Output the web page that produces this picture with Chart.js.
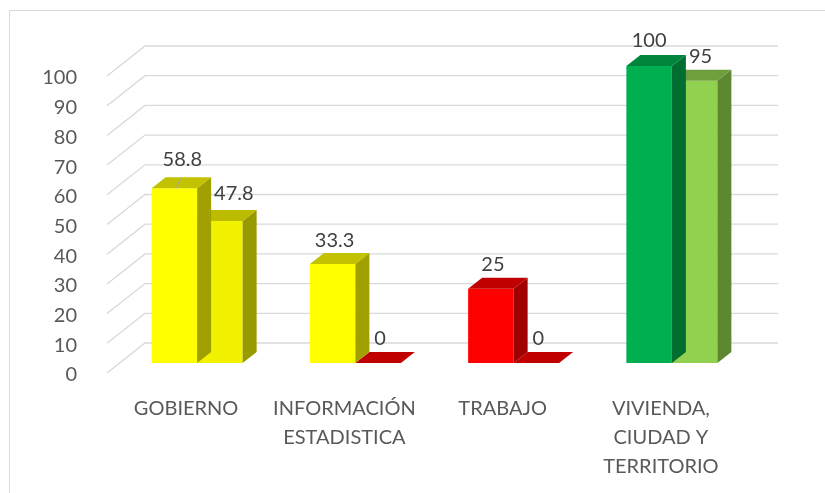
<!DOCTYPE html>
<html>
<head>
<meta charset="utf-8">
<script src="https://cdn.jsdelivr.net/npm/chart.js@4.4.1/dist/chart.umd.min.js"></script>
<style>
  html, body { margin: 0; padding: 0; background: #fff; }
  canvas { display: block; }
</style>
</head>
<body>
<canvas id="c" width="825" height="493"></canvas>
<script>
// categories and values
const categories = ["GOBIERNO", ["INFORMACIÓN", "ESTADISTICA"], "TRABAJO", ["VIVIENDA,", "CIUDAD Y", "TERRITORIO"]]
const serie1 = [58.8, 33.3, 25, 100]
const serie2 = [47.8, 0, 0, 95]
const yTicks = [0, 10, 20, 30, 40, 50, 60, 70, 80, 90, 100]

// colours of the three visible faces of each bar
const front1 = ["#FFFF00", "#FFFF00", "#FF0000", "#00B050"]
const top1 = ["#C2C200", "#C2C200", "#C00000", "#00853C"]
const side1 = ["#A0A000", "#A0A000", "#A00000", "#006E31"]
const front2 = ["#F2F200", "#FF0000", "#FF0000", "#92D050"]
const top2 = ["#BBBB00", "#C00000", "#C00000", "#6F9E3D"]
const side2 = ["#999900", "#A00000", "#A00000", "#5E8732"]

// 3d look: shift of the bar fronts inside the floor, and depth of a bar
const OX = 11, OY = -10
const DX = 14, DY = -11
const WALL_DX = 38, WALL_DY = -30

// small moves of some value labels, "dataset-index"
const labelNudge = {
    "0-0": { x: 6, y: -5, leader: true },
    "1-0": { x: 12, y: -3 },
    "1-3": { x: 4, y: 0 },
    "0-3": { x: -2, y: -1 }
}

function poly(ctx, pts, color) {
    ctx.beginPath()
    ctx.moveTo(pts[0][0], pts[0][1])
    for (let i = 1; i < pts.length; i++) ctx.lineTo(pts[i][0], pts[i][1])
    ctx.closePath()
    ctx.fillStyle = color
    ctx.fill()
}

const bars3d = {
    id: "bars3d",
    beforeDraw(chart) {
        let ctx = chart.ctx
        ctx.save()
        ctx.fillStyle = "#fff"
        ctx.fillRect(0, 0, chart.width, chart.height)
        ctx.strokeStyle = "#D9D9D9"
        ctx.lineWidth = 1
        ctx.beginPath()
        ctx.moveTo(9.5, chart.height)
        ctx.lineTo(9.5, 10.5)
        ctx.lineTo(chart.width, 10.5)
        ctx.stroke()
        ctx.restore()
    },
    beforeDatasetsDraw(chart) {
        let ctx = chart.ctx
        let y = chart.scales.y
        let a = chart.chartArea
        ctx.save()
        ctx.strokeStyle = "#D9D9D9"
        ctx.lineWidth = 1.3
        yTicks.forEach(v => {
            let py = y.getPixelForValue(v)
            ctx.beginPath()
            ctx.moveTo(a.left, py)
            ctx.lineTo(a.left + WALL_DX, py + WALL_DY)
            ctx.lineTo(a.right + WALL_DX, py + WALL_DY)
            ctx.stroke()
        })
        ctx.restore()
        ctx.save()
        ctx.translate(OX, OY)
    },
    afterDatasetDraw(chart, args) {
        let ctx = chart.ctx
        let tops = args.index === 0 ? top1 : top2
        let sides = args.index === 0 ? side1 : side2
        args.meta.data.forEach((bar, i) => {
            let p = bar.getProps(["x", "y", "base", "width"], true)
            let l = p.x - p.width / 2, r = p.x + p.width / 2
            let t = Math.min(p.y, p.base), b = Math.max(p.y, p.base)
            if (b - t > 0.5) {
                poly(ctx, [[r, t], [r + DX, t + DY], [r + DX, b + DY], [r, b]], sides[i])
            }
            poly(ctx, [[l, t], [l + DX, t + DY], [r + DX, t + DY], [r, t]], tops[i])
        })
    },
    afterDatasetsDraw(chart) {
        let ctx = chart.ctx
        ctx.restore()
        ctx.save()
        ctx.font = "20px Lato"
        ctx.fillStyle = "#404040"
        ctx.textAlign = "center"
        ctx.textBaseline = "middle"
        chart.data.datasets.forEach((ds, d) => {
            chart.getDatasetMeta(d).data.forEach((bar, i) => {
                let cx = bar.x + OX
                let ty = bar.y + OY
                let n = labelNudge[d + "-" + i] || { x: 0, y: 0 }
                ctx.fillText(String(ds.data[i]), cx + 2 + n.x, ty - 24 + n.y)
                if (n.leader) {
                    ctx.strokeStyle = "#A6A6A6"
                    ctx.lineWidth = 1
                    ctx.beginPath()
                    ctx.moveTo(cx + 1.5, ty)
                    ctx.lineTo(cx + 7, ty - 11)
                    ctx.stroke()
                }
            })
        })
        ctx.restore()
    }
}

function draw() {
    Chart.defaults.font.family = "Lato"
    new Chart(document.getElementById("c"), {
        type: "bar",
        data: {
            labels: categories,
            datasets: [{
                data: serie1,
                backgroundColor: front1,
                borderWidth: 0,
                clip: false
            }, {
                data: serie2,
                backgroundColor: front2,
                borderWidth: 0,
                clip: false
            }]
        },
        options: {
            responsive: false,
            animation: false,
            events: [],
            barPercentage: 1,
            categoryPercentage: 0.575,
            layout: { padding: { left: 0, right: 85, top: 76, bottom: 0 } },
            plugins: { legend: { display: false }, tooltip: { enabled: false } },
            scales: {
                x: {
                    grid: { display: false },
                    border: { display: false },
                    ticks: {
                        color: "#595959",
                        font: { size: 20, lineHeight: 1.45 },
                        padding: 13,
                        maxRotation: 0,
                        autoSkip: false
                    },
                    afterFit(s) { s.height = 120 }
                },
                y: {
                    min: 0,
                    max: 100,
                    grid: { display: false },
                    border: { display: false },
                    ticks: {
                        stepSize: 10,
                        color: "#595959",
                        font: { size: 20 },
                        padding: 22,
                        labelOffset: 2
                    },
                    afterFit(s) { s.width = 107 }
                }
            }
        },
        plugins: [bars3d]
    })
}

if (document.fonts && document.fonts.load) {
    document.fonts.load("20px Lato").then(draw, draw)
} else {
    draw()
}
</script>
</body>
</html>
